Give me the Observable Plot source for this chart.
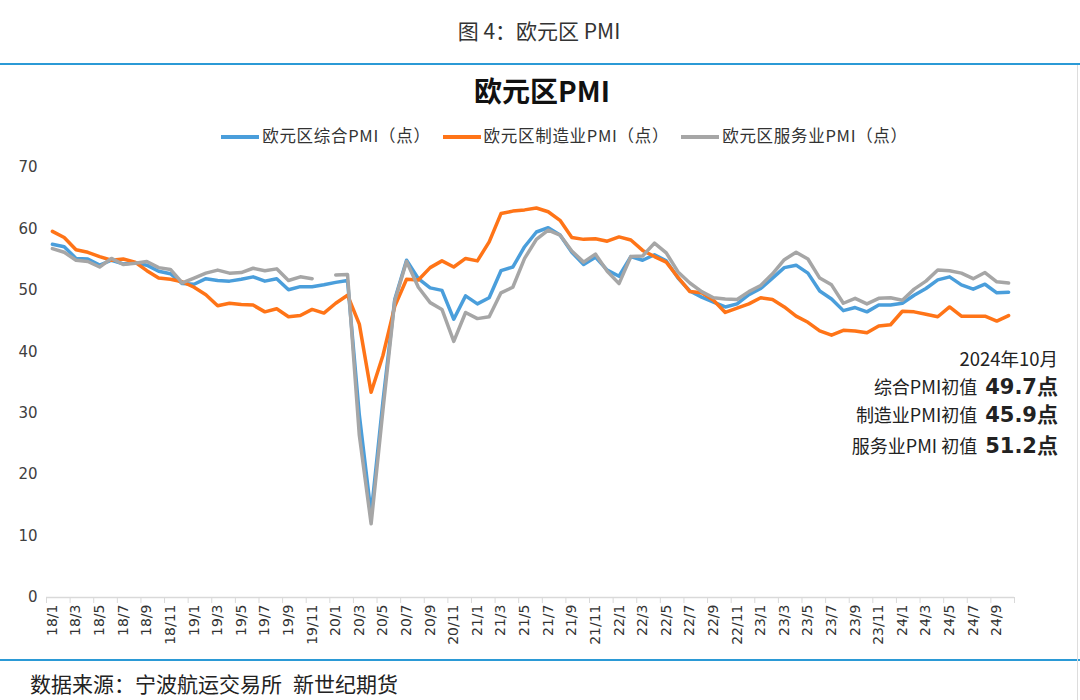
<!DOCTYPE html>
<html><head><meta charset="utf-8">
<script src="https://cdn.jsdelivr.net/npm/d3@7"></script>
<script src="https://cdn.jsdelivr.net/npm/@observablehq/plot@0.6"></script>
<style>
body{margin:0;background:#fff;}
#wrap{position:relative;width:1080px;height:700px;overflow:hidden;font-family:"Noto Sans CJK SC",sans-serif;color:#222;background:#fff;}
#chart{position:absolute;left:0;top:0;}
.abs{position:absolute;white-space:nowrap;}
#fig{left:0;width:1078px;top:15px;text-align:center;font-size:21px;color:#333;}
.hline{position:absolute;left:0;width:1080px;height:2px;background:#2b9ad6;}
#title{left:0;width:1084px;top:70px;text-align:center;font-size:28px;font-weight:bold;color:#111;}
#legend{left:0;width:1129px;top:123px;text-align:center;font-size:16.5px;letter-spacing:0.7px;color:#333;}
.li{display:inline-block;margin:0 6px;}
.sw{display:inline-block;width:38px;height:4px;vertical-align:middle;margin-right:3px;position:relative;top:-1px;}
#note{right:22px;top:344px;text-align:right;color:#222;}
#note div{height:28px;line-height:28px;}
#note div.last{height:32px;line-height:34px;}
.lab{font-size:18px;}
.ttl{font-size:18.5px;}
.val{font-size:21px;font-weight:bold;font-family:"DejaVu Sans","Noto Sans CJK SC",sans-serif;margin-left:8px;}
#src{left:30px;top:668px;font-size:21px;color:#222;}
#src .gap{margin-left:11px;}
#rb{position:absolute;left:1077px;top:65px;width:1px;height:635px;background:#ddd;}
</style></head><body><div id="wrap">
<div id="chart"></div>
<div id="fig" class="abs">图 4：欧元区 PMI</div>
<div class="hline" style="top:63px"></div>
<div id="title" class="abs">欧元区PMI</div>
<div id="legend" class="abs"></div>
<div id="note" class="abs"></div>
<div class="hline" style="top:659px"></div>
<div id="rb"></div>
<div id="src" class="abs">数据来源：宁波航运交易所<span class="gap">新世纪期货</span></div>
</div>
<script>
const months = ["18/1","18/2","18/3","18/4","18/5","18/6","18/7","18/8","18/9","18/10","18/11","18/12",
"19/1","19/2","19/3","19/4","19/5","19/6","19/7","19/8","19/9","19/10","19/11","19/12",
"20/1","20/2","20/3","20/4","20/5","20/6","20/7","20/8","20/9","20/10","20/11","20/12",
"21/1","21/2","21/3","21/4","21/5","21/6","21/7","21/8","21/9","21/10","21/11","21/12",
"22/1","22/2","22/3","22/4","22/5","22/6","22/7","22/8","22/9","22/10","22/11","22/12",
"23/1","23/2","23/3","23/4","23/5","23/6","23/7","23/8","23/9","23/10","23/11","23/12",
"24/1","24/2","24/3","24/4","24/5","24/6","24/7","24/8","24/9","24/10"];

const composite = [57.5,57.1,55.2,55.1,54.1,54.9,54.3,54.5,54.1,53.1,52.7,51.1,
51.0,51.9,51.6,51.5,51.8,52.2,51.5,51.9,50.1,50.6,50.6,50.9,
51.3,51.6,29.7,13.6,31.9,48.5,54.9,51.9,50.4,50.0,45.3,49.1,
47.8,48.8,53.2,53.8,57.1,59.5,60.2,59.0,56.2,54.2,55.4,53.3,
52.3,55.5,54.9,55.8,54.8,52.0,49.9,48.9,48.1,47.3,47.8,49.3,
50.3,52.0,53.7,54.1,52.8,49.9,48.6,46.7,47.2,46.5,47.6,47.6,
47.9,49.2,50.3,51.7,52.2,50.9,50.2,51.0,49.6,49.7];

const manufacturing = [59.6,58.6,56.6,56.2,55.5,54.9,55.1,54.6,53.2,52.0,51.8,51.4,
50.5,49.3,47.5,47.9,47.7,47.6,46.5,47.0,45.7,45.9,46.9,46.3,
47.9,49.2,44.5,33.4,39.4,47.4,51.8,51.7,53.7,54.8,53.8,55.2,
54.8,57.9,62.5,62.9,63.1,63.4,62.8,61.4,58.6,58.3,58.4,58.0,
58.7,58.2,56.5,55.5,54.6,52.1,49.8,49.6,48.4,46.4,47.1,47.8,
48.8,48.5,47.3,45.8,44.8,43.4,42.7,43.5,43.4,43.1,44.2,44.4,
46.6,46.5,46.1,45.7,47.3,45.8,45.8,45.8,45.0,45.9];

const services = [56.8,56.2,54.9,54.7,53.8,55.2,54.2,54.4,54.7,53.7,53.4,51.2,
52.0,52.8,53.3,52.8,52.9,53.6,53.2,53.5,51.6,52.2,51.9,null,
52.5,52.6,26.4,12.0,30.5,48.3,54.7,50.5,48.0,46.9,41.7,46.4,
45.4,45.7,49.6,50.5,55.2,58.3,59.8,59.0,56.4,54.6,55.9,53.1,
51.1,55.5,55.6,57.7,56.1,53.0,51.2,49.8,48.8,48.6,48.5,49.8,
50.8,52.7,55.0,56.2,55.1,52.0,50.9,47.9,48.7,47.8,48.7,48.8,
48.4,50.2,51.5,53.3,53.2,52.8,51.9,52.9,51.4,51.2];

const seriesNames = ["欧元区综合PMI（点）","欧元区制造业PMI（点）","欧元区服务业PMI（点）"];
const seriesColors = ["#4a9edb","#ff7417","#a6a6a6"];
const yTicks = [0,10,20,30,40,50,60,70];

const noteTitle = "2024年10月";
const noteLabels = ["综合PMI初值","制造业PMI初值","服务业PMI 初值"];
const noteValues = ["49.7点","45.9点","51.2点"];

const allSeries = [composite, manufacturing, services];
const rows = [];
allSeries.forEach((vals, s) => vals.forEach((v, i) => rows.push({s, i, v})));

const labelIdx = d3.range(0, months.length, 2);
const boundaries = d3.range(-0.5, months.length, 2);

const plot = Plot.plot({
  width: 1080, height: 700,
  marginLeft: 46, marginRight: 66, marginTop: 167, marginBottom: 103,
  style: {fontFamily: '"DejaVu Sans", sans-serif', fontSize: "14px", color: "#333", background: "transparent"},
  x: {type: "linear", domain: [-0.5, months.length - 0.5]},
  y: {domain: [0, 70]},
  marks: [
    Plot.axisY({ticks: yTicks, tickSize: 0, tickPadding: 9, fontSize: 15, label: null, fill: "#404040"}),
    Plot.ruleY([0], {stroke: "#d9d9d9", strokeWidth: 1.5}),
    Plot.axisX({ticks: boundaries, tickFormat: () => "", tickSize: 6, stroke: "#d9d9d9", label: null}),
    Plot.axisX({ticks: labelIdx, tickFormat: i => months[i], tickRotate: -90, tickSize: 0, tickPadding: 7, fontSize: 14, label: null, fill: "#333"}),
    ...[0,1,2].map(s => Plot.line(rows.filter(d => d.s === s), {x: "i", y: "v", stroke: seriesColors[s], strokeWidth: 3.5, strokeLinejoin: "round"}))
  ]
});
document.getElementById("chart").appendChild(plot);

const lg = document.getElementById("legend");
seriesNames.forEach((n, k) => {
  const sp = document.createElement("span"); sp.className = "li";
  sp.innerHTML = `<span class="sw" style="background:${seriesColors[k]}"></span>${n}`;
  lg.appendChild(sp);
});
const note = document.getElementById("note");
let h = `<div class="ttl">${noteTitle}</div>`;
noteLabels.forEach((l, k) => { h += `<div${k === 2 ? ' class="last"' : ''}><span class="lab">${l}</span><span class="val">${noteValues[k]}</span></div>`; });
note.innerHTML = h;
</script>
</body></html>
